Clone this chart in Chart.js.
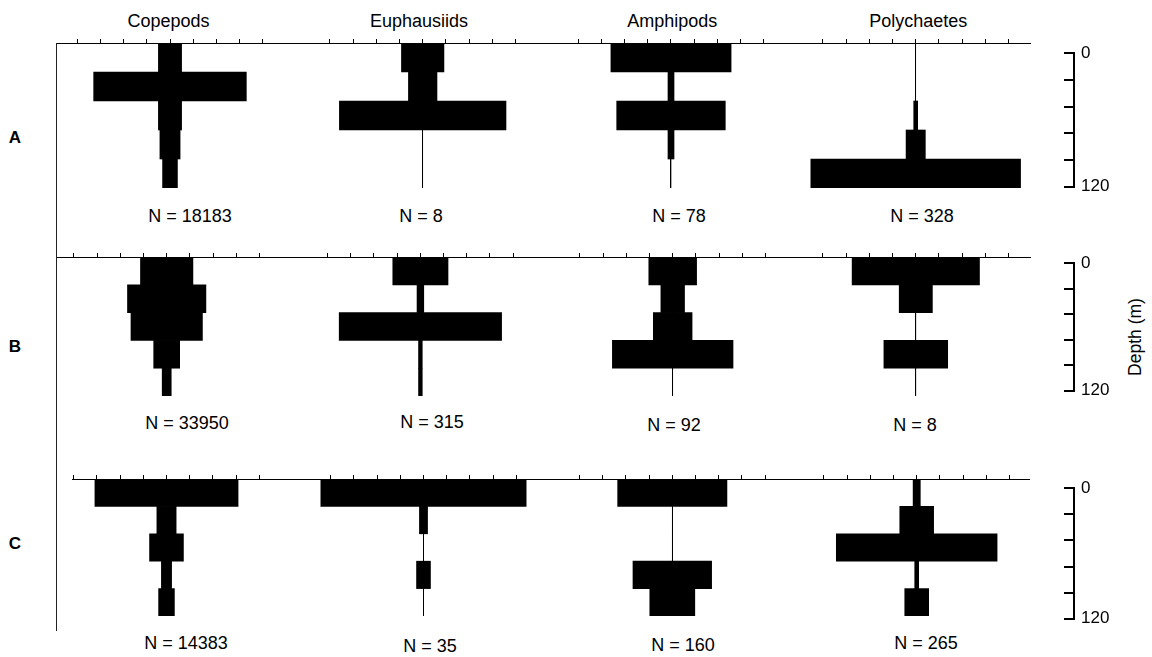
<!DOCTYPE html>
<html>
<head>
<meta charset="utf-8">
<script src="https://cdn.jsdelivr.net/npm/chart.js@4.4.1/dist/chart.umd.min.js"></script>
<style>
  html, body { margin: 0; padding: 0; background: #fff; }
  #fig { position: relative; width: 1152px; height: 657px; overflow: hidden; background: #fff;
         font-family: "Liberation Sans", Arial, sans-serif; color: #000; }
  #fig canvas { position: absolute; }
  .lbl { position: absolute; transform: translate(-50%, -50%); white-space: nowrap; line-height: 1; font-size: 18px; }
  .station { font-weight: bold; font-size: 17px; }
  .depth-title { position: absolute; white-space: nowrap; line-height: 1; font-size: 17.5px;
                 transform: translate(-50%, -50%) rotate(-90deg); }
  .frame { position: absolute; background: #222; }
</style>
</head>
<body>
<div id="fig"></div>
<script>
// ---- data -------------------------------------------------------------
const taxa = ['Copepods', 'Euphausiids', 'Amphipods', 'Polychaetes'];
const stations = ['A', 'B', 'C'];
// five sampled depth strata covering 0-120 m
const depthBins = ['0-24 m', '24-48 m', '48-72 m', '72-96 m', '96-120 m'];
const depthMax = 120;
const depthTickLabels = [0, 120];
const depthAxisTitle = 'Depth (m)';

// share (%) of each taxon's catch found in each depth stratum
const copepodsA    = [10.0, 65.8, 10.0, 8.7, 6.4];
const euphausiidsA = [18.3, 12.3, 71.8, 0, 0];
const amphipodsA   = [51.8, 2.6, 46.8, 2.6, 0];
const polychaetesA = [0, 0, 1.7, 8.3, 90.4];

const copepodsB    = [22.6, 33.8, 30.8, 11.2, 3.9];
const euphausiidsB = [23.8, 2.9, 70.0, 1.6, 1.6];
const amphipodsB   = [20.6, 10.2, 16.7, 52.0, 0];
const polychaetesB = [54.9, 14.3, 0, 27.5, 0];

const copepodsC    = [61.7, 8.3, 14.6, 4.4, 6.8];
const euphausiidsC = [88.5, 3.5, 0, 6.0, 0];
const amphipodsC   = [47.1, 0, 0, 33.9, 19.4];
const polychaetesC = [3.1, 14.6, 69.3, 1.7, 10.3];

// number of individuals per station and taxon
const countsA = [18183, 8, 78, 328];
const countsB = [33950, 315, 92, 8];
const countsC = [14383, 35, 160, 265];

// percent ticks along each kite's top axis
const kiteTicks = [-40, -30, -20, -10, 0, 10, 20, 30, 40];
const kiteTicksLast = [-40, -30, -20, -10, 0, 10, 20, 30, 40, 50];

const rowsData = [
  [copepodsA, euphausiidsA, amphipodsA, polychaetesA],
  [copepodsB, euphausiidsB, amphipodsB, polychaetesB],
  [copepodsC, euphausiidsC, amphipodsC, polychaetesC]
];
const rowsCounts = [countsA, countsB, countsC];

// ---- layout -------------------------------------------------------------
const PX_PER_PCT = 2.32;
const AXIS_BOX = 6;
const FONT = '"Liberation Sans", Arial, sans-serif';
const rowLayout = [
  { axisY: 43,  h: 145, left: 57, right: 1031, centers: [170, 422.7, 671, 915.7],
    nX: [190, 421, 679, 922], nY: [216, 216, 216, 216], labelY: 137, depthTop: 50, depthBottom: 190 },
  { axisY: 257, h: 139, left: 57, right: 1031, centers: [166.7, 420.4, 672.7, 915.8],
    nX: [187, 432, 674, 915], nY: [423, 422, 425, 425], labelY: 346, depthTop: 260, depthBottom: 394 },
  { axisY: 479, h: 137, left: 72, right: 1030, centers: [166.5, 423.5, 672.3, 916.7],
    nX: [186, 430, 683, 926], nY: [643, 646, 645, 643], labelY: 543, depthTop: 485, depthBottom: 622 }
];
const titleX = [168.5, 419, 672.3, 918.2];
const titleY = 21;
const depthAxisX = 1074;

const fig = document.getElementById('fig');

function addText(text, x, y, cls) {
  const d = document.createElement('div');
  d.className = cls;
  d.textContent = text;
  d.style.left = x + 'px';
  d.style.top = y + 'px';
  fig.appendChild(d);
  return d;
}

function addCanvas(left, top, w, h) {
  const c = document.createElement('canvas');
  c.width = w; c.height = h;
  c.style.left = left + 'px'; c.style.top = top + 'px';
  c.style.width = w + 'px'; c.style.height = h + 'px';
  fig.appendChild(c);
  return c;
}

// left frame running down all stations
const frame = document.createElement('div');
frame.className = 'frame';
Object.assign(frame.style, { left: '56px', top: '43px', width: '1px', height: '588px' });
fig.appendChild(frame);

// column headings
taxa.forEach((t, i) => addText(t, titleX[i], titleY, 'lbl'));

// one kite diagram per station and taxon
function kiteChart(values, ticks, canvas, xmin, xmax) {
  return new Chart(canvas, {
    type: 'bar',
    data: {
      labels: depthBins,
      datasets: [{
        data: values.map(v => [-v / 2, v / 2]),
        backgroundColor: '#000',
        borderWidth: 0,
        barPercentage: 1,
        categoryPercentage: 1
      }]
    },
    options: {
      indexAxis: 'y',
      responsive: false,
      maintainAspectRatio: false,
      animation: false,
      devicePixelRatio: 1,
      layout: { padding: 0 },
      plugins: { legend: { display: false }, tooltip: { enabled: false }, title: { display: false } },
      scales: {
        x: {
          type: 'linear',
          position: 'top',
          min: xmin,
          max: xmax,
          afterBuildTicks: s => { s.ticks = ticks.map(v => ({ value: v })); },
          afterFit: s => { s.height = AXIS_BOX; },
          ticks: { display: false },
          grid: {
            drawOnChartArea: true,
            drawTicks: true,
            tickLength: 4,
            tickColor: '#000',
            lineWidth: 1,
            color: ctx => (ctx.tick && ctx.tick.value === 0) ? '#000' : 'rgba(0,0,0,0)'
          },
          border: { display: true, color: '#000', width: 1 }
        },
        y: { type: 'category', display: false }
      }
    }
  });
}

rowsData.forEach((row, r) => {
  const L = rowLayout[r];
  const edges = [L.left];
  for (let i = 0; i < L.centers.length - 1; i++) edges.push((L.centers[i] + L.centers[i + 1]) / 2);
  edges.push(L.right);

  row.forEach((values, i) => {
    const left = Math.round(edges[i]);
    const right = Math.round(edges[i + 1]);
    const w = right - left;
    const cv = addCanvas(left, L.axisY - AXIS_BOX, w, AXIS_BOX + L.h);
    const xmin = (left - L.centers[i]) / PX_PER_PCT;
    const xmax = (right - L.centers[i]) / PX_PER_PCT;
    const ticks = (i === row.length - 1 ? kiteTicksLast : kiteTicks).filter(v => v >= xmin && v <= xmax);
    kiteChart(values, ticks, cv, xmin, xmax);
    addText('N = ' + rowsCounts[r][i], L.nX[i], L.nY[i], 'lbl');
  });

  // station label
  addText(stations[r], 15, L.labelY, 'lbl station');

  // depth scale on the right
  const pad = 14;
  const stride = depthMax / depthBins.length;
  const depthTicks = depthBins.map((_, k) => k * stride).concat([depthMax]);
  const dc = addCanvas(depthAxisX - 10, L.depthTop - pad, 60, L.depthBottom - L.depthTop + 2 * pad);
  new Chart(dc, {
    type: 'scatter',
    data: { datasets: [{ data: [] }] },
    options: {
      responsive: false,
      maintainAspectRatio: false,
      animation: false,
      devicePixelRatio: 1,
      layout: { padding: { top: pad, bottom: pad, left: 0, right: 0 } },
      plugins: { legend: { display: false }, tooltip: { enabled: false } },
      scales: {
        x: { display: false },
        y: {
          type: 'linear',
          position: 'right',
          reverse: true,
          min: 0,
          max: depthMax,
          afterBuildTicks: s => { s.ticks = depthTicks.map(v => ({ value: v })); },
          afterFit: s => { s.width = 50; },
          ticks: {
            callback: v => depthTickLabels.includes(v) ? String(v) : '',
            color: '#000',
            font: { family: FONT, size: 17 },
            padding: 7
          },
          grid: { drawOnChartArea: true, drawTicks: false, color: '#000', lineWidth: 2 },
          border: { display: true, color: '#000', width: 2 }
        }
      }
    }
  });
});

addText(depthAxisTitle, 1136, 337, 'depth-title');
</script>
</body>
</html>
